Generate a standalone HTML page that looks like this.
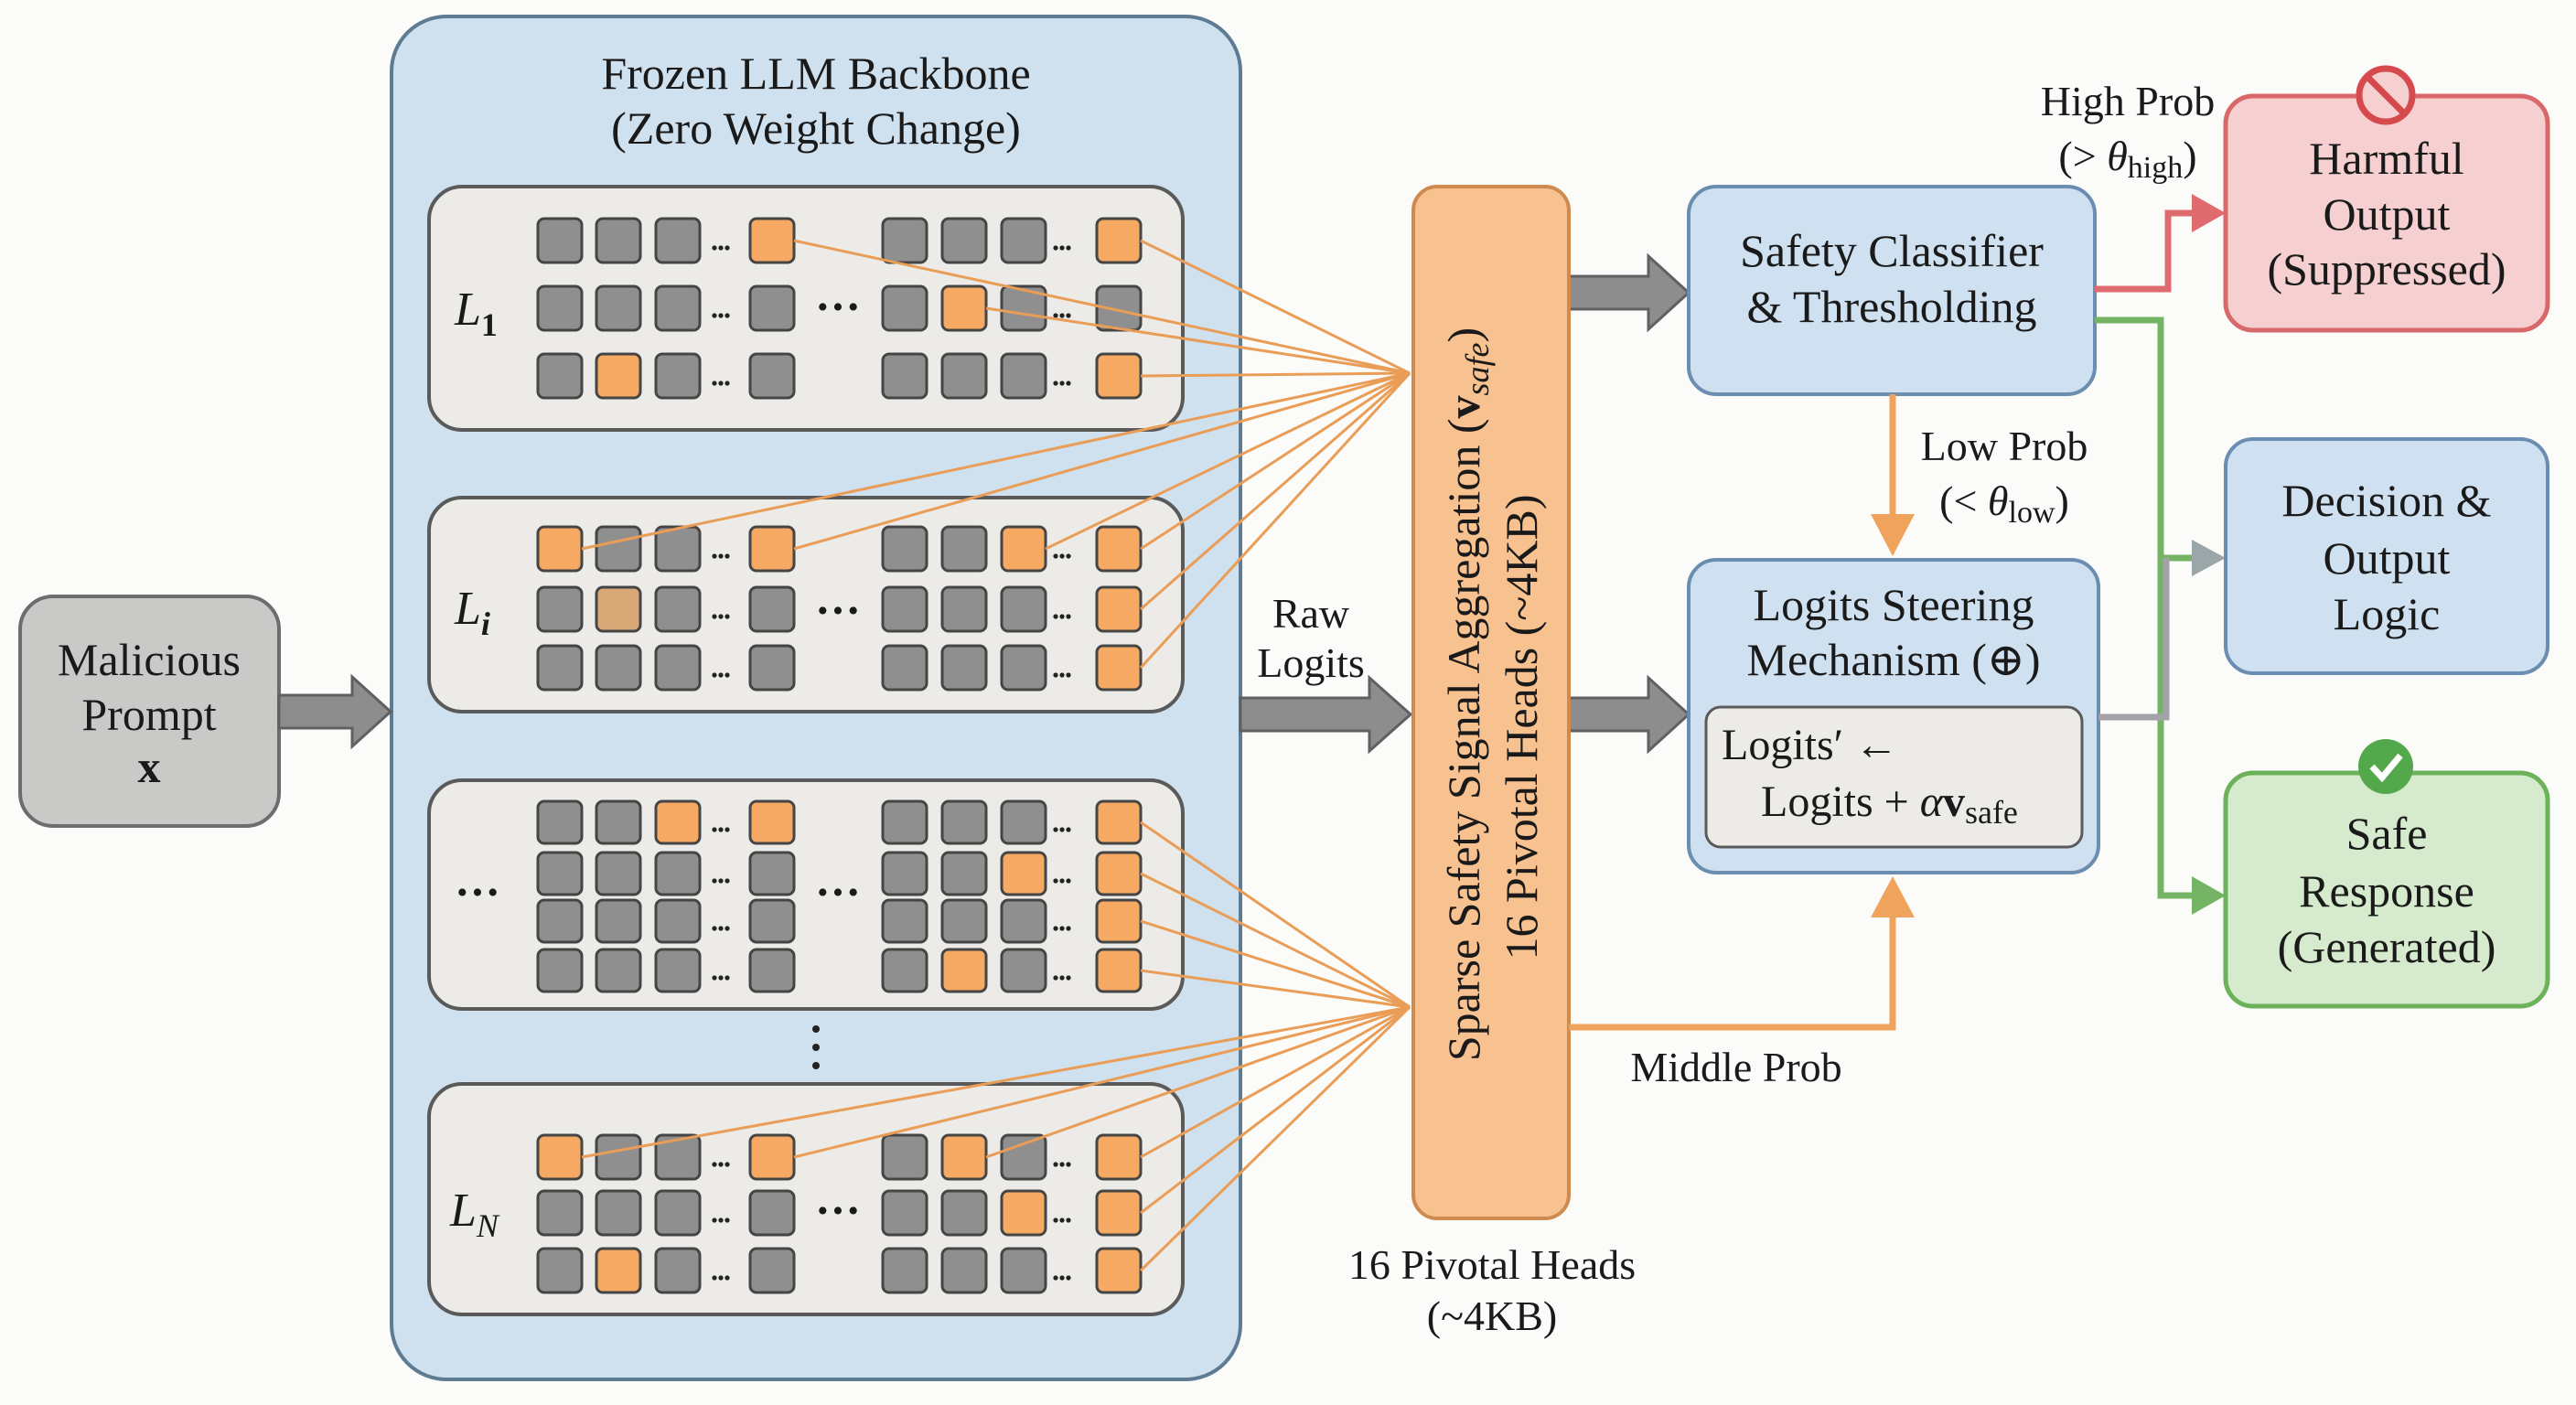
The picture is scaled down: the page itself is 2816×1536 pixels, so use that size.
<!DOCTYPE html>
<html><head><meta charset="utf-8"><style>
html,body{margin:0;padding:0;background:#fbfbf9;}
svg{display:block;}
svg text{font-family:"Liberation Serif","Tinos","Times New Roman","DejaVu Serif",serif;fill:#1a1a1a;}
</style></head><body>
<svg id="s" width="2816" height="1536" viewBox="0 0 2816 1536" xmlns="http://www.w3.org/2000/svg" font-family="Liberation Serif, Times New Roman, serif">
<rect width="2816" height="1536" fill="#fbfbf9"/>
<rect x="428" y="18" width="928" height="1490" rx="60" fill="#cfe0ee" stroke="#5d7b93" stroke-width="4"/>
<text x="892" y="97" font-size="50" text-anchor="middle">Frozen LLM Backbone</text>
<text x="892" y="157" font-size="50" text-anchor="middle">(Zero Weight Change)</text>
<rect x="469" y="204" width="824" height="266" rx="36" fill="#ecebe8" stroke="#5a5a5a" stroke-width="4"/>
<rect x="469" y="544" width="824" height="234" rx="36" fill="#ecebe8" stroke="#5a5a5a" stroke-width="4"/>
<rect x="469" y="853" width="824" height="250" rx="36" fill="#ecebe8" stroke="#5a5a5a" stroke-width="4"/>
<rect x="469" y="1185" width="824" height="252" rx="36" fill="#ecebe8" stroke="#5a5a5a" stroke-width="4"/>
<g id="grid"></g>
<text x="497" y="355" font-size="52" font-style="italic">L<tspan font-size="36" dy="12" font-style="normal" font-weight="bold">1</tspan></text>
<text x="497" y="682" font-size="52" font-style="italic">L<tspan font-size="36" dy="12" font-weight="bold">i</tspan></text>
<text x="497" y="992" font-size="50" font-weight="bold">···</text>
<text x="492" y="1340" font-size="52" font-style="italic">L<tspan font-size="36" dy="12">N</tspan></text>
<text x="916" y="352" font-size="50" font-weight="bold" text-anchor="middle">···</text>
<text x="916" y="684" font-size="50" font-weight="bold" text-anchor="middle">···</text>
<text x="916" y="992" font-size="50" font-weight="bold" text-anchor="middle">···</text>
<text x="916" y="1340" font-size="50" font-weight="bold" text-anchor="middle">···</text>
<circle cx="892" cy="1125" r="4" fill="#222"/><circle cx="892" cy="1145" r="4" fill="#222"/><circle cx="892" cy="1165" r="4" fill="#222"/>
<g id="lines"></g>
<rect x="22" y="652" width="283" height="251" rx="36" fill="#c9c9c8" stroke="#6d6d6d" stroke-width="4"/>
<text x="163" y="738" font-size="50" text-anchor="middle">Malicious</text>
<text x="163" y="798" font-size="50" text-anchor="middle">Prompt</text>
<text x="163" y="855" font-size="50" text-anchor="middle" font-weight="bold">x</text>
<g fill="#8d8d8d" stroke="#606060" stroke-width="3">
<polygon points="305,760 385,760 385,740 427,778 385,816 385,796 305,796"/>
<polygon points="1356,763 1497,763 1497,741 1542,781 1497,821 1497,799 1356,799"/>
<polygon points="1715,302 1802,302 1802,280 1846,320 1802,360 1802,338 1715,338"/>
<polygon points="1715,763 1802,763 1802,741 1846,781 1802,821 1802,799 1715,799"/>
</g>
<text x="1433" y="686" font-size="46" text-anchor="middle">Raw</text>
<text x="1433" y="740" font-size="46" text-anchor="middle">Logits</text>
<rect x="1545" y="204" width="170" height="1128" rx="26" fill="#f7c190" stroke="#cf8a4f" stroke-width="4"/>
<text transform="translate(1617,759) rotate(-90)" font-size="50" text-anchor="middle">Sparse Safety Signal Aggregation (<tspan font-weight="bold">v</tspan><tspan font-size="36" font-style="italic" dy="10">safe</tspan><tspan dy="-10">)</tspan></text>
<text transform="translate(1680,795) rotate(-90)" font-size="50" text-anchor="middle">16 Pivotal Heads (~4KB)</text>
<text x="1631" y="1398" font-size="46" text-anchor="middle">16 Pivotal Heads</text>
<text x="1631" y="1454" font-size="46" text-anchor="middle">(~4KB)</text>
<rect x="1846" y="204" width="444" height="227" rx="30" fill="#cfe0f0" stroke="#6a8db0" stroke-width="4"/>
<text x="2068" y="291" font-size="50" text-anchor="middle">Safety Classifier</text>
<text x="2068" y="352" font-size="50" text-anchor="middle">&amp; Thresholding</text>
<rect x="1846" y="612" width="448" height="342" rx="30" fill="#cfe0f0" stroke="#6a8db0" stroke-width="4"/>
<text x="2070" y="678" font-size="50" text-anchor="middle">Logits Steering</text>
<text x="2070" y="738" font-size="50" text-anchor="middle">Mechanism (⊕)</text>
<rect x="1865" y="773" width="411" height="153" rx="16" fill="#ecebe8" stroke="#5a5a5a" stroke-width="3"/>
<text x="1882" y="830" font-size="48">Logits′ ←</text>
<text x="1925" y="892" font-size="48">Logits + <tspan font-style="italic">α</tspan><tspan font-weight="bold">v</tspan><tspan font-size="36" dy="8">safe</tspan></text>
<g stroke="#f0a35c" stroke-width="7" fill="none">
<line x1="2069" y1="431" x2="2069" y2="566"/>
<polyline points="1715,1123 2069,1123 2069,1000"/>
</g>
<polygon points="2045,562 2093,562 2069,608" fill="#f0a35c"/>
<polygon points="2045,1003 2093,1003 2069,958" fill="#f0a35c"/>
<text x="2191" y="503" font-size="46" text-anchor="middle">Low Prob</text>
<text x="2191" y="563" font-size="46" text-anchor="middle">(&lt; <tspan font-style="italic">θ</tspan><tspan font-size="34" dy="8">low</tspan><tspan dy="-8">)</tspan></text>
<text x="1898" y="1182" font-size="46" text-anchor="middle">Middle Prob</text>
<g fill="none" stroke-width="7">
<polyline points="2290,350 2362,350 2362,979 2400,979" stroke="#74b464"/>
<line x1="2362" y1="610" x2="2400" y2="610" stroke="#74b464"/>
<polyline points="2294,784 2368,784 2368,610" stroke="#a2a2a8"/>
<polyline points="2290,316 2370,316 2370,233 2400,233" stroke="#e06b6f"/>
</g>
<polygon points="2396,212 2433,233 2396,254" fill="#e06b6f"/>
<polygon points="2396,590 2433,610 2396,630" fill="#9aa6a8"/>
<polygon points="2396,958 2433,979 2396,1000" fill="#74b464"/>
<text x="2326" y="126" font-size="46" text-anchor="middle">High Prob</text>
<text x="2326" y="186" font-size="46" text-anchor="middle">(&gt; <tspan font-style="italic">θ</tspan><tspan font-size="34" dy="8">high</tspan><tspan dy="-8">)</tspan></text>
<rect x="2433" y="105" width="352" height="256" rx="30" fill="#f6d0d0" stroke="#d9686b" stroke-width="5"/>
<text x="2609" y="190" font-size="50" text-anchor="middle">Harmful</text>
<text x="2609" y="251" font-size="50" text-anchor="middle">Output</text>
<text x="2609" y="311" font-size="50" text-anchor="middle">(Suppressed)</text>
<circle cx="2608" cy="104" r="29" fill="#f6d0d0" stroke="#d6494d" stroke-width="7"/>
<line x1="2588" y1="84" x2="2628" y2="124" stroke="#d6494d" stroke-width="7"/>
<rect x="2433" y="480" width="352" height="256" rx="30" fill="#cfe0f0" stroke="#6a8db0" stroke-width="4"/>
<text x="2609" y="564" font-size="50" text-anchor="middle">Decision &amp;</text>
<text x="2609" y="627" font-size="50" text-anchor="middle">Output</text>
<text x="2609" y="688" font-size="50" text-anchor="middle">Logic</text>
<rect x="2433" y="845" width="352" height="255" rx="30" fill="#d6ebcd" stroke="#6cb25a" stroke-width="5"/>
<text x="2609" y="928" font-size="50" text-anchor="middle">Safe</text>
<text x="2609" y="991" font-size="50" text-anchor="middle">Response</text>
<text x="2609" y="1052" font-size="50" text-anchor="middle">(Generated)</text>
<circle cx="2608" cy="838" r="30" fill="#52a84a"/>
<polyline points="2593,838 2604,850 2624,826" fill="none" stroke="#fff" stroke-width="7"/>
</svg>
<script>
var NS="http://www.w3.org/2000/svg";
var cols=[612,676,741,844,989,1054,1119,1223];
var layers=[
 {rows:[263,337,411],h:48,or:[[0,3],[0,7],[1,5],[2,1],[2,7]],target:[1541,408],lines:[[0,3],[0,7],[1,5],[2,7]]},
 {rows:[600,666,730],h:48,or:[[0,0],[0,3],[0,6],[0,7],[1,7],[2,7]],light:[[1,1]],target:[1541,408],lines:[[0,0],[0,3],[0,6],[0,7],[1,7],[2,7]]},
 {rows:[899,955,1007,1061],h:46,or:[[0,2],[0,3],[0,7],[1,6],[1,7],[2,7],[3,5],[3,7]],target:[1541,1101],lines:[[0,7],[1,7],[2,7],[3,7]]},
 {rows:[1265,1326,1389],h:48,or:[[0,0],[0,3],[0,5],[0,7],[1,6],[1,7],[2,1],[2,7]],target:[1541,1101],lines:[[0,0],[0,3],[0,5],[0,7],[1,7],[2,7]]}
];
var g=document.getElementById('grid'),lg=document.getElementById('lines');
function has(a,r,c){return (a||[]).some(function(p){return p[0]==r&&p[1]==c;});}
layers.forEach(function(L){
 L.rows.forEach(function(y,r){
  cols.forEach(function(x,c){
   var rc=document.createElementNS(NS,'rect');
   rc.setAttribute('x',x-24);rc.setAttribute('y',y-L.h/2);rc.setAttribute('width',48);rc.setAttribute('height',L.h);rc.setAttribute('rx',7);
   var f='#8f8f8f';if(has(L.or,r,c))f='#f5a963';if(has(L.light,r,c))f='#d9a877';
   rc.setAttribute('fill',f);rc.setAttribute('stroke','#454545');rc.setAttribute('stroke-width',3);
   g.appendChild(rc);
  });
  [788,1161].forEach(function(x){
   for(var i=-1;i<=1;i++){var d=document.createElementNS(NS,'circle');d.setAttribute('cx',x+i*7);d.setAttribute('cy',y+8);d.setAttribute('r',2.6);d.setAttribute('fill','#222');g.appendChild(d);}
  });
 });
 L.lines.forEach(function(p){
  var y=L.rows[p[0]],x=cols[p[1]]+24;
  var l=document.createElementNS(NS,'line');
  l.setAttribute('x1',x);l.setAttribute('y1',y);l.setAttribute('x2',L.target[0]);l.setAttribute('y2',L.target[1]);
  l.setAttribute('stroke','#e99d57');l.setAttribute('stroke-width',3);lg.appendChild(l);
 });
});
</script>
</body></html>
